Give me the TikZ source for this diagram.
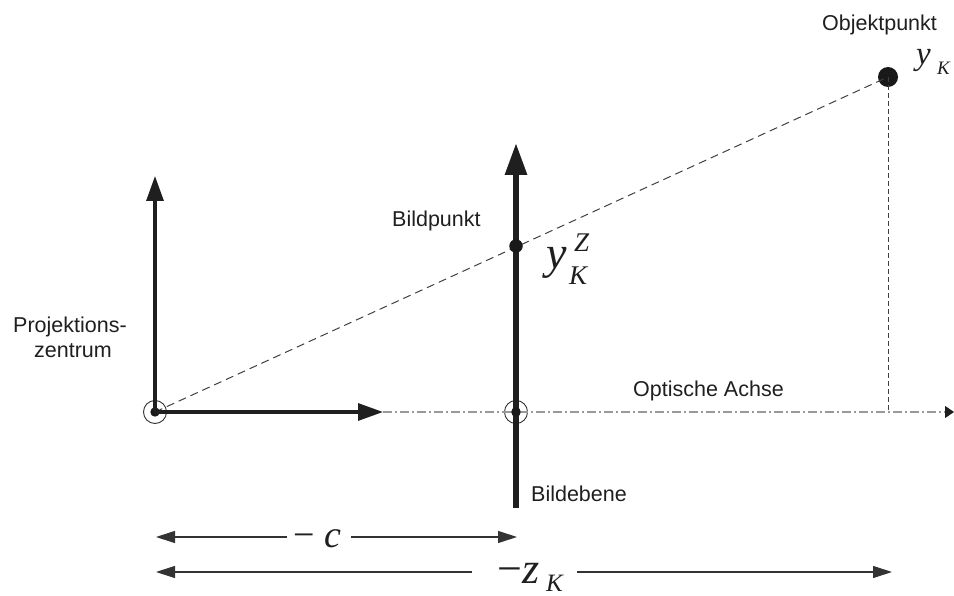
\documentclass[tikz,border=0pt]{standalone}
\usepackage{fontspec}
\setmainfont{Liberation Sans}
\newfontfamily\tms{Liberation Serif}
\usetikzlibrary{arrows.meta}
\tikzset{dimtip/.tip={Triangle[length=19pt,width=12pt]}}
\begin{document}
\begin{tikzpicture}[x=1pt,y=-1pt,
  lbl/.style={font=\fontsize{21.5}{25}\selectfont, inner sep=0pt, text=black!88},
  mth/.style={inner sep=0pt, text=black!88},
  axisarrow/.style={line width=3.2pt, draw=black!88, -{Triangle[length=25pt,width=17pt]}},
  planearrow/.style={line width=6pt, draw=black!88, -{Triangle[length=32pt,width=21pt]}},
  optaxis/.style={line width=1.2pt, draw=black!40, dash pattern=on 9pt off 3pt on 2pt off 3pt, -{Triangle[length=9pt,width=12pt,color=black!88]}},
  ray/.style={line width=1pt, draw=black!75, dash pattern=on 8pt off 5pt},
  drop/.style={line width=1pt, draw=black!75, dash pattern=on 5pt off 3pt},
  dimline/.style={line width=1.1pt, draw=black!80},
  ring/.style={circle, draw=black!80, line width=0.9pt, minimum size=23pt, inner sep=0pt},
  dot/.style={circle, fill=black!90, inner sep=0pt}
]
\useasboundingbox (0,0) rectangle (954,596);

% coordinates
\coordinate (O) at (155,412);
\coordinate (Ytip) at (155,176);
\coordinate (Xtip) at (383,412);
\coordinate (Aend) at (954,412);
\coordinate (Bbot) at (516,508);
\coordinate (Btip) at (516,143);
\coordinate (B0) at (516,412);
\coordinate (P) at (516,246);
\coordinate (Q) at (888,77);
\coordinate (Qf) at (888,412);

% dots and rings
\node[ring] (Oc) at (O) {};
\node[ring] (Bc) at (B0) {};
\node[dot, minimum size=9.4pt] (Od) at (O) {};
\node[dot, minimum size=9.4pt] (Bd) at (B0) {};
\node[dot, minimum size=20pt] (Qd) at (Q) {};

% lines
\draw[optaxis] (Xtip) -- (Aend);
\draw[ray] (Od.center) -- (Qd.center);
\draw[drop] (Qd.center) -- (Qf);
\draw[axisarrow] (Od.center) -- (Ytip);
\draw[axisarrow] (Od.center) -- (Xtip);
\draw[planearrow] (Bbot) -- (Btip);
\node[dot, minimum size=13.5pt] (Pd) at (P) {};
\node[dot, minimum size=9.4pt] at (B0) {};

% texts
\node[lbl, anchor=base west] (objl) at (822,31) {Objektpunkt};
\node[lbl, anchor=base west] (bpl) at (392,227) {Bildpunkt};
\node[lbl, anchor=base] (pz1) at (70,333) {Projektions-};
\node[lbl, anchor=base] (pz2) at (73,358) {zentrum};
\node[lbl, anchor=base west] (oal) at (633,396) {Optische Achse};
\node[lbl, anchor=base west] (bel) at (531,501) {Bildebene};

% math labels
\node[mth, anchor=base west, font=\tms\itshape\fontsize{33}{33}\selectfont] (yk) at (916,65) {y};
\node[mth, anchor=base west, font=\tms\itshape\fontsize{19}{19}\selectfont] (ykK) at (937,75) {K};
\node[mth, anchor=base west, font=\tms\itshape\fontsize{46}{46}\selectfont] (yz) at (546,269) {y};
\node[mth, anchor=base west, font=\tms\itshape\fontsize{27}{27}\selectfont] (yzZ) at (574,252) {Z};
\node[mth, anchor=base west, font=\tms\itshape\fontsize{27}{27}\selectfont] (yzK) at (569,285) {K};

% dimension -c
\coordinate (cA) at (156,537);
\coordinate (cB) at (517,537);
\node[mth, anchor=base west, font=\tms\fontsize{38}{38}\selectfont] (cl) at (293,547) {−\hspace{0.25em}\textit{c}};
\draw[dimline, {dimtip}-] (cA) -- ([xshift=-6pt]cl.west |- cA);
\draw[dimline, -{dimtip}] ([xshift=10pt]cl.east |- cB) -- (cB);

% dimension -z_K
\coordinate (zA) at (156,572);
\coordinate (zB) at (892,572);
\node[mth, anchor=base west, font=\tms\fontsize{44}{44}\selectfont] (zl) at (497,583) {−\textit{z}};
\node[mth, anchor=base west, font=\tms\itshape\fontsize{25}{25}\selectfont] (zlK) at (546,591) {K};
\draw[dimline, {dimtip}-] (zA) -- ([xshift=-25pt]zl.west |- zA);
\draw[dimline, -{dimtip}] ([xshift=14pt]zlK.east |- zB) -- (zB);
\end{tikzpicture}
\end{document}
